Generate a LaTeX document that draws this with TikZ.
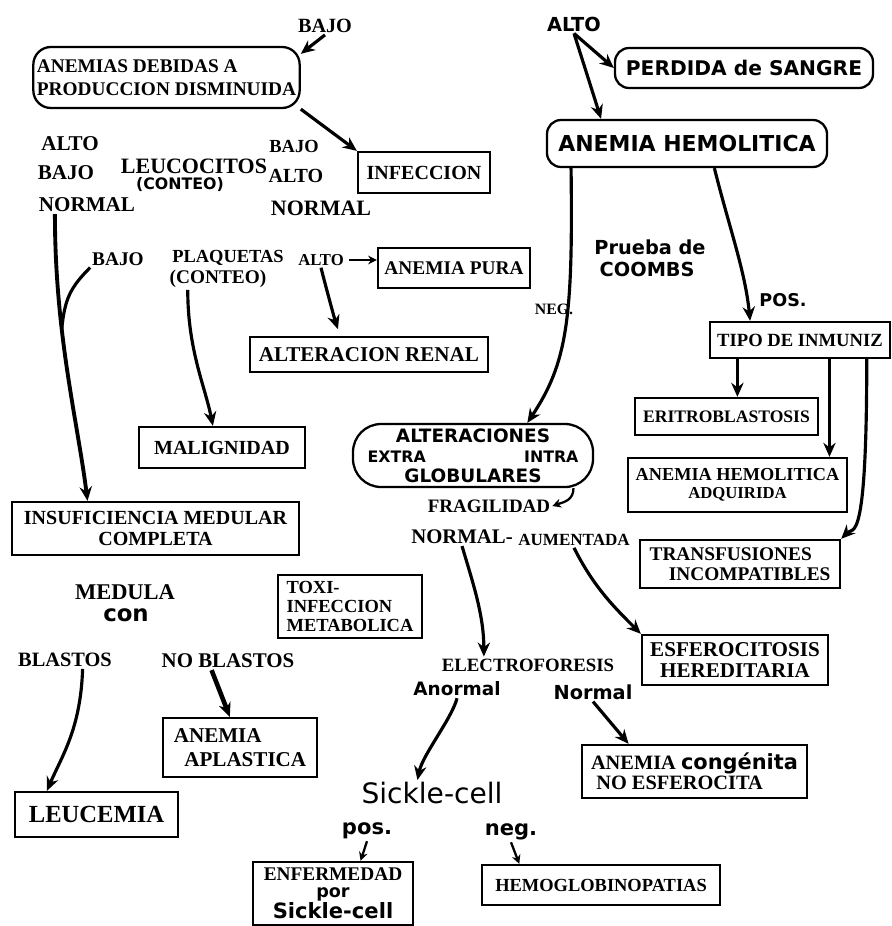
\documentclass[tikz,border=0pt]{standalone}
\usepackage{fontspec}
\setmainfont{Liberation Serif}
\newfontfamily\roundfont{DejaVu Sans}
\usetikzlibrary{arrows.meta,calc}

\begin{document}
\begin{tikzpicture}
[x=0.02cm,y=-0.02cm,%
  darkLine/.style={-{Stealth[length=8pt,width=7pt]},line width=1.8pt},%
  smallArrow/.style={-{Stealth[length=5pt,width=5pt]},line width=1.3pt},%
  plainLine/.style={-,line width=1.8pt},%
  boxDecorate/.style={shape=rectangle,draw,line width=1.3pt,inner sep=2pt},%
  roundDecorate/.style={boxDecorate,rounded corners=8pt},%
  labelDecorate/.style={inner sep=1pt,font=\bfseries\fontsize{#1}{#1}\selectfont},%
  roundLabel/.style={inner sep=1pt,font=\roundfont\bfseries\fontsize{#1}{#1}\selectfont}]
\useasboundingbox (0,0) rectangle (892,926);
%% plain labels
\foreach \nodename/\x/\y/\fsize/\txt in {bajoTop/325/26/11.5/BAJO, altoL/70/144/12/ALTO,
  bajoL/66/173/12/BAJO, normalL/87/205/12/NORMAL, leucocitos/194/166/12.5/LEUCOCITOS,
  bajoR/294/146/10.5/BAJO, altoR/296/176/11.4/ALTO, normalR/321/208/12.5/NORMAL,
  bajoPlaq/118/259/11/BAJO, plaquetas/228/258/10.5/PLAQUETAS, plaqConteo/218/279/11/(CONTEO),
  altoPlaq/321/260/9.5/ALTO, negLbl/554/309/9/NEG., fragilidad/489/506/10.8/FRAGILIDAD,
  normalFrag/462/537/11.8/NORMAL-, aumentada/574/540/9.7/AUMENTADA, medula/125/592/12.8/MEDULA,
  blastos/65/660/11.6/BLASTOS, noBlastos/228/661/11.9/NO BLASTOS,
  electro/528/665/10.7/ELECTROFORESIS}
{
  \node (\nodename) at (\x,\y) [labelDecorate=\fsize] {\txt};
}
\foreach \nodename/\x/\y/\fsize/\txt in {altoTop/574/24/11/ALTO, leucoConteo/180/185/9/(CONTEO),
  posLbl/783/300/10/POS., con/126/615/13/con, anormal/457/689/10.5/Anormal,
  normalElec/593/692/11/Normal, posSickle/367/831/12/pos., negSickle/511/832/12/neg.}
{
  \node (\nodename) at (\x,\y) [roundLabel=\fsize] {\txt};
}
\node (prueba) at (650,258) [roundLabel=11,align=left,font=\roundfont\bfseries\fontsize{11}{12.5}\selectfont] {Prueba de\\\hspace{3pt}COOMBS};
\node (sickle) at (432,793) [inner sep=1pt,font=\roundfont\fontsize{16}{16}\selectfont] {Sickle-cell};
%% boxes
\foreach \nodename/\x/\y/\w/\h/\fsize/\txt in {infeccionBox/424/172.5/132/41/11.4/INFECCION,
  puraBox/454/268/152/40/11/ANEMIA PURA, renalBox/369/354.5/238/35/12/ALTERACION RENAL,
  malignidadBox/222/447.5/166/41/11.4/MALIGNIDAD, tipoBox/800/340/180/36/10.6/TIPO DE INMUNIZ,
  eritroBox/726.5/416.5/183/37/10/ERITROBLASTOSIS, leucemiaBox/96.5/814.5/163/45/14/LEUCEMIA,
  hemoglobBox/601/885/238/40/10.5/HEMOGLOBINOPATIAS}
{
  \node (\nodename) at (\x,\y) [boxDecorate,minimum width=\w*0.02cm,minimum height=\h*0.02cm,
    font=\bfseries\fontsize{\fsize}{\fsize}\selectfont] {\txt};
}
\node (anemiasBox) at (166.5,77.5) [roundDecorate,rounded corners=10pt,minimum width=263*0.02cm,
  minimum height=61*0.02cm,align=left,font=\bfseries\fontsize{11}{13}\selectfont]
  {ANEMIAS DEBIDAS A\\PRODUCCION DISMINUIDA};
\node (perdidaBox) at (744,68) [roundDecorate,minimum width=258*0.02cm,minimum height=40*0.02cm,
  font=\roundfont\bfseries\fontsize{11.5}{12}\selectfont] {PERDIDA de SANGRE};
\node (hemoliticaBox) at (687,143.5) [roundDecorate,minimum width=280*0.02cm,minimum height=47*0.02cm,
  font=\roundfont\bfseries\fontsize{12.5}{13}\selectfont] {ANEMIA HEMOLITICA};
\node (alteracionesBox) at (473,455.5) [roundDecorate,rounded corners=16pt,minimum width=240*0.02cm,
  minimum height=63*0.02cm,align=center,font=\roundfont\bfseries\fontsize{10.5}{11.5}\selectfont]
  {ALTERACIONES\\{\fontsize{9}{11.5}\selectfont EXTRA\hspace{56pt}INTRA}\\GLOBULARES};
\node (adquiridaBox) at (737.5,485) [boxDecorate,minimum width=219*0.02cm,minimum height=54*0.02cm,
  align=center,font=\bfseries\fontsize{10.4}{10}\selectfont]
  {ANEMIA HEMOLITICA\\{\fontsize{9.5}{10}\selectfont ADQUIRIDA}};
\node (transfBox) at (740,564) [boxDecorate,minimum width=200*0.02cm,minimum height=48*0.02cm,
  align=left,font=\bfseries\fontsize{11}{11.5}\selectfont] {TRANSFUSIONES\\\hspace{11pt}INCOMPATIBLES};
\node (insufBox) at (155.5,528.5) [boxDecorate,minimum width=287*0.02cm,minimum height=53*0.02cm,
  align=center,font=\bfseries\fontsize{11.4}{11.5}\selectfont] {INSUFICIENCIA MEDULAR\\COMPLETA};
\node (toxiBox) at (350,606.5) [boxDecorate,minimum width=144*0.02cm,minimum height=63*0.02cm,
  align=left,font=\bfseries\fontsize{10.5}{11}\selectfont] {TOXI-\\INFECCION\\METABOLICA};
\node (esferoBox) at (735,660) [boxDecorate,minimum width=186*0.02cm,minimum height=50*0.02cm,
  align=center,font=\bfseries\fontsize{12}{11.5}\selectfont] {ESFEROCITOSIS\\HEREDITARIA};
\node (aplasticaBox) at (240,747.5) [boxDecorate,minimum width=154*0.02cm,minimum height=59*0.02cm,
  align=left,font=\bfseries\fontsize{12}{14}\selectfont] {ANEMIA\\\hspace{6pt}APLASTICA};
\node (congenitaBox) at (694.5,771.5) [boxDecorate,minimum width=225*0.02cm,minimum height=53*0.02cm,
  align=left,font=\bfseries\fontsize{11.6}{11.5}\selectfont]
  {ANEMIA {\roundfont\fontsize{11.9}{11.5}\selectfont congénita}\\\hspace{3pt}NO ESFEROCITA};
\node (enfermedadBox) at (333,893.5) [boxDecorate,minimum width=160*0.02cm,minimum height=63*0.02cm,
  align=center,font=\bfseries\fontsize{11}{9.5}\selectfont]
  {ENFERMEDAD\\{\roundfont\fontsize{10}{9.5}\selectfont por}\\{\roundfont\fontsize{12}{9.5}\selectfont Sickle-cell}};
%% straight lines
\path
\foreach \startnode/\startanchor/\endnode/\endanchor in {bajoTop/south/anemiasBox/10,
  anemiasBox/south east/infeccionBox/north west, altoTop/south/perdidaBox/west,
  altoTop/south/hemoliticaBox/164}
{
  (\startnode.\startanchor) edge[darkLine] (\endnode.\endanchor)
};
\draw[darkLine] (tipoBox.197) -- (tipoBox.197 |- eritroBox.north);
\draw[darkLine] (tipoBox.327) -- (tipoBox.327 |- adquiridaBox.north);
\draw[smallArrow,line width=1.5pt,shorten <=2pt] (altoPlaq.east) -- (altoPlaq.east -| puraBox.west);
\draw[darkLine,line width=2.6pt] ($(noBlastos.south west)!0.38!(noBlastos.south east)$)
  -- ($(aplasticaBox.north west)!0.435!(aplasticaBox.north east)$);
\draw[darkLine] (normalElec.south) -- ($(congenitaBox.north west)!0.21!(congenitaBox.north east)$);
\draw[smallArrow] (posSickle.south) -- ($(enfermedadBox.north west)!0.67!(enfermedadBox.north east)$);
\draw[smallArrow] (negSickle.south) -- ($(hemoglobBox.north west)!0.16!(hemoglobBox.north east)$);
%% curved lines
\draw[darkLine] (hemoliticaBox.192) .. controls +(2,150) and +(40,-60) .. (alteracionesBox.31);
\draw[darkLine] (hemoliticaBox.318) .. controls +(15,60) and +(-5,-50) .. (tipoBox.159);
\draw[darkLine] (tipoBox.344) .. controls +(0,190) and +(12,-12) .. (transfBox.north east);
\draw[smallArrow] (alteracionesBox.342) .. controls +(0,12) and +(12,-4) .. (fragilidad.east);
\draw[darkLine] (normalFrag.south) .. controls +(12,40) and +(0,-40)
  .. ($(electro.north west)!0.25!(electro.north east)$);
\draw[darkLine] (aumentada.south) .. controls +(20,40) and +(-25,-25) .. (esferoBox.north west);
\draw[darkLine] (anormal.south) .. controls +(-5,20) and +(5,-25)
  .. ($(sickle.north west)!0.4!(sickle.north east)$);
\draw[darkLine] ($(blastos.south west)!0.68!(blastos.south east)$) .. controls +(-2,60) and +(15,-35)
  .. ($(leucemiaBox.north west)!0.2!(leucemiaBox.north east)$);
\draw[darkLine] ($(plaqConteo.south west)!0.2!(plaqConteo.south east)$) .. controls +(0,60) and +(-8,-40)
  .. ($(malignidadBox.north west)!0.446!(malignidadBox.north east)$);
\draw[darkLine,shorten >=4pt] (altoPlaq.south) .. controls +(5,20) and +(-5,-15)
  .. ($(renalBox.north west)!0.38!(renalBox.north east)$);
\draw[darkLine,line width=2.2pt] ($(normalL.south west)!0.18!(normalL.south east)$) .. controls +(0,120) and +(-10,-80)
  .. ($(insufBox.north west)!0.265!(insufBox.north east)$) coordinate[pos=0.35] (mergePt);
\draw[plainLine] (bajoPlaq.south west) .. controls +(-20,20) and +(3,-30) .. (mergePt);
\end{tikzpicture}
\end{document}
